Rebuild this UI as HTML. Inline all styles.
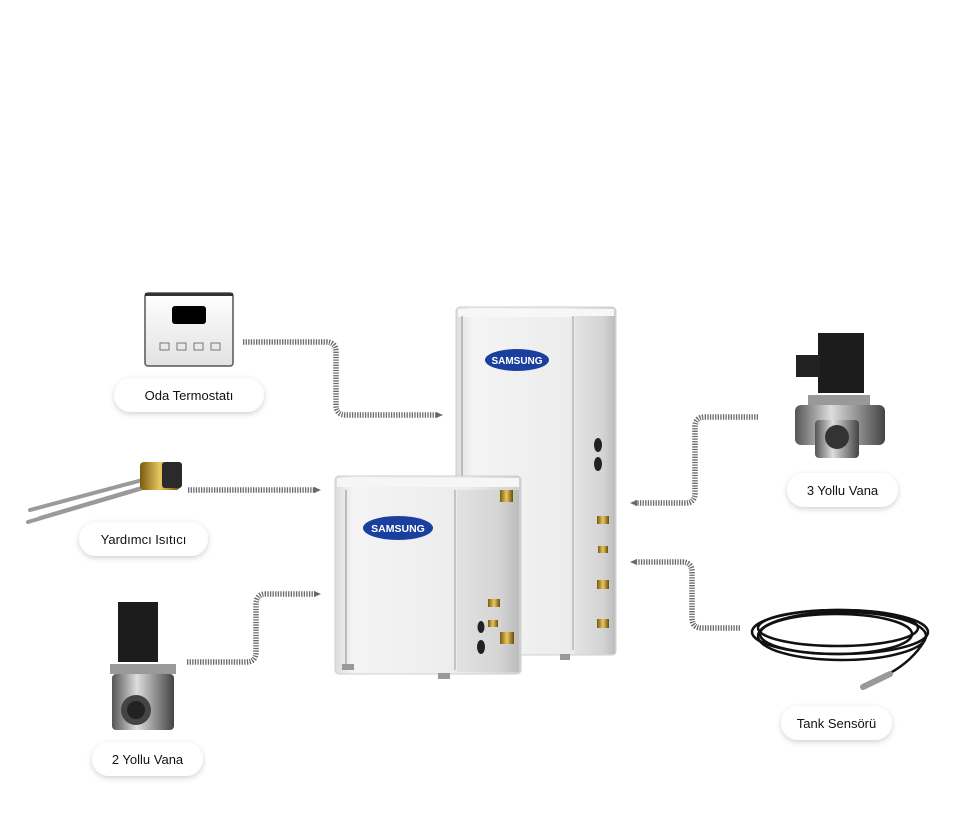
<!DOCTYPE html>
<html><head><meta charset="utf-8"><style>
html,body{margin:0;padding:0;background:#fff;}
svg{display:block}
text{font-family:"Liberation Sans",sans-serif;}
</style></head><body>
<svg width="960" height="839" viewBox="0 0 960 839" xmlns="http://www.w3.org/2000/svg">
<defs>
<linearGradient id="unit" x1="0" x2="1" y1="0" y2="0">
<stop offset="0" stop-color="#dcdcdc"/><stop offset="0.1" stop-color="#f4f4f4"/><stop offset="0.7" stop-color="#ececec"/><stop offset="0.85" stop-color="#dedede"/><stop offset="1" stop-color="#cfcfcf"/></linearGradient>
<linearGradient id="side" x1="0" x2="1"><stop offset="0" stop-color="#e2e2e2"/><stop offset="0.7" stop-color="#d4d4d4"/><stop offset="1" stop-color="#bcbcbc"/></linearGradient>
<linearGradient id="metal" x1="0" x2="1"><stop offset="0" stop-color="#555"/><stop offset="0.4" stop-color="#ddd"/><stop offset="1" stop-color="#444"/></linearGradient>
<linearGradient id="brass" x1="0" x2="1"><stop offset="0" stop-color="#7a5a10"/><stop offset="0.5" stop-color="#e8c860"/><stop offset="1" stop-color="#6a4a08"/></linearGradient>
<linearGradient id="thermo" x1="0" x2="0" y1="0" y2="1"><stop offset="0" stop-color="#fff"/><stop offset="1" stop-color="#e2e2e2"/></linearGradient>
<filter id="sh" x="-20%" y="-40%" width="140%" height="200%"><feDropShadow dx="0" dy="2" stdDeviation="3" flood-color="#000" flood-opacity="0.18"/></filter>
<marker id="ar" markerWidth="8" markerHeight="8" refX="2" refY="4" orient="auto" markerUnits="userSpaceOnUse"><path d="M0,1 L7,4 L0,7 Z" fill="#6a6a6a"/></marker>
</defs>

<g fill="none" stroke="#6a6a6a" stroke-width="5.5" stroke-dasharray="1.3 1.3">
<path d="M243,342 H326 Q336,342 336,352 V405 Q336,415 346,415 H438" marker-end="url(#ar)"/>
<path d="M188,490 H316" marker-end="url(#ar)"/>
<path d="M187,662 H246 Q256,662 256,652 V605 Q256,594 266,594 H316" marker-end="url(#ar)"/>
<path d="M758,417 H705 Q695,417 695,427 V493 Q695,503 685,503 H635" marker-end="url(#ar)"/>
<path d="M740,628 H702 Q692,628 692,618 V572 Q692,562 682,562 H635" marker-end="url(#ar)"/>
</g>

<rect x="456" y="307" width="160" height="348" rx="4" fill="url(#unit)" stroke="#cfcfcf"/>
<rect x="458" y="309" width="156" height="8" fill="#f7f7f7"/>
<line x1="462" y1="316" x2="462" y2="650" stroke="#bbb" stroke-width="2"/>
<line x1="573" y1="316" x2="573" y2="650" stroke="#c4c4c4" stroke-width="2"/>
<rect x="575" y="316" width="40" height="338" fill="url(#side)"/>
<ellipse cx="517" cy="360" rx="32" ry="11" fill="#1a3f9e"/>
<text x="517" y="364" font-size="10" font-weight="bold" fill="#fff" text-anchor="middle">SAMSUNG</text>
<ellipse cx="598" cy="445" rx="4" ry="7" fill="#222"/><ellipse cx="598" cy="464" rx="4" ry="7" fill="#222"/>
<rect x="597" y="516" width="12" height="8" fill="url(#brass)"/><rect x="598" y="546" width="10" height="7" fill="url(#brass)"/>
<rect x="597" y="580" width="12" height="9" fill="url(#brass)"/><rect x="597" y="619" width="12" height="9" fill="url(#brass)"/>
<rect x="560" y="654" width="10" height="6" fill="#999"/>

<rect x="335" y="476" width="186" height="198" rx="4" fill="url(#unit)" stroke="#cfcfcf"/>
<rect x="337" y="478" width="182" height="9" fill="#f6f6f6"/>
<line x1="346" y1="490" x2="346" y2="670" stroke="#bbb" stroke-width="2"/>
<line x1="455" y1="490" x2="455" y2="670" stroke="#c4c4c4" stroke-width="2"/>
<rect x="457" y="490" width="62" height="182" fill="url(#side)"/>
<ellipse cx="398" cy="528" rx="35" ry="12" fill="#1a3f9e"/>
<text x="398" y="532" font-size="10.5" font-weight="bold" fill="#fff" text-anchor="middle">SAMSUNG</text>
<rect x="500" y="490" width="13" height="12" fill="url(#brass)"/>
<rect x="488" y="599" width="12" height="8" fill="url(#brass)"/><rect x="488" y="620" width="10" height="7" fill="url(#brass)"/>
<rect x="500" y="632" width="14" height="12" fill="url(#brass)"/>
<ellipse cx="481" cy="627" rx="3.5" ry="6" fill="#222"/><ellipse cx="481" cy="647" rx="4" ry="7" fill="#222"/>
<rect x="342" y="664" width="12" height="6" fill="#999"/><rect x="438" y="673" width="12" height="6" fill="#999"/>

<rect x="145" y="293" width="88" height="73" rx="3" fill="url(#thermo)" stroke="#555" stroke-width="1.5"/>
<rect x="145" y="293" width="88" height="3" fill="#333"/>
<rect x="172" y="306" width="34" height="18" rx="3" fill="#000"/>
<g fill="none" stroke="#777" stroke-width="1"><rect x="160" y="343" width="9" height="7"/><rect x="177" y="343" width="9" height="7"/><rect x="194" y="343" width="9" height="7"/><rect x="211" y="343" width="9" height="7"/></g>

<g stroke-linecap="round" fill="none">
<path d="M150,478 L30,510 M150,486 L28,522 M155,484 L40,518" stroke="#9a9a9a" stroke-width="4"/>
</g>
<rect x="140" y="462" width="40" height="28" rx="4" fill="url(#brass)"/>
<rect x="162" y="462" width="20" height="26" rx="3" fill="#2a2a2a"/>

<rect x="118" y="602" width="40" height="60" fill="#1c1c1c"/>
<rect x="110" y="664" width="66" height="10" fill="#999"/>
<rect x="112" y="674" width="62" height="56" rx="4" fill="url(#metal)"/>
<circle cx="136" cy="710" r="15" fill="#444"/><circle cx="136" cy="710" r="9" fill="#222"/>

<rect x="818" y="333" width="46" height="60" fill="#1c1c1c"/>
<rect x="796" y="355" width="24" height="22" fill="#222"/>
<rect x="808" y="395" width="62" height="12" fill="#999"/>
<rect x="795" y="405" width="90" height="40" rx="6" fill="url(#metal)"/>
<rect x="815" y="420" width="44" height="38" rx="4" fill="url(#metal)"/>
<circle cx="837" cy="437" r="12" fill="#333"/>

<g fill="none" stroke="#111" stroke-width="2.5">
<ellipse cx="840" cy="632" rx="88" ry="22"/><ellipse cx="838" cy="628" rx="80" ry="18"/><ellipse cx="842" cy="636" rx="84" ry="24"/><ellipse cx="836" cy="634" rx="76" ry="20"/>
<path d="M925,640 Q910,665 880,678"/>
</g>
<line x1="863" y1="687" x2="890" y2="674" stroke="#999" stroke-width="6" stroke-linecap="round"/>

<g filter="url(#sh)" fill="#fff">
<rect x="114" y="378" width="150" height="34" rx="17"/>
<rect x="79" y="522" width="129" height="34" rx="17"/>
<rect x="92" y="742" width="111" height="34" rx="17"/>
<rect x="787" y="473" width="111" height="34" rx="17"/>
<rect x="781" y="706" width="111" height="34" rx="17"/>
</g>
<g font-size="13" fill="#111" text-anchor="middle">
<text x="189" y="400">Oda Termostatı</text>
<text x="143.5" y="544">Yardımcı Isıtıcı</text>
<text x="147.5" y="764">2 Yollu Vana</text>
<text x="842.5" y="495">3 Yollu Vana</text>
<text x="836.5" y="728">Tank Sensörü</text>
</g>
</svg>
</body></html>
